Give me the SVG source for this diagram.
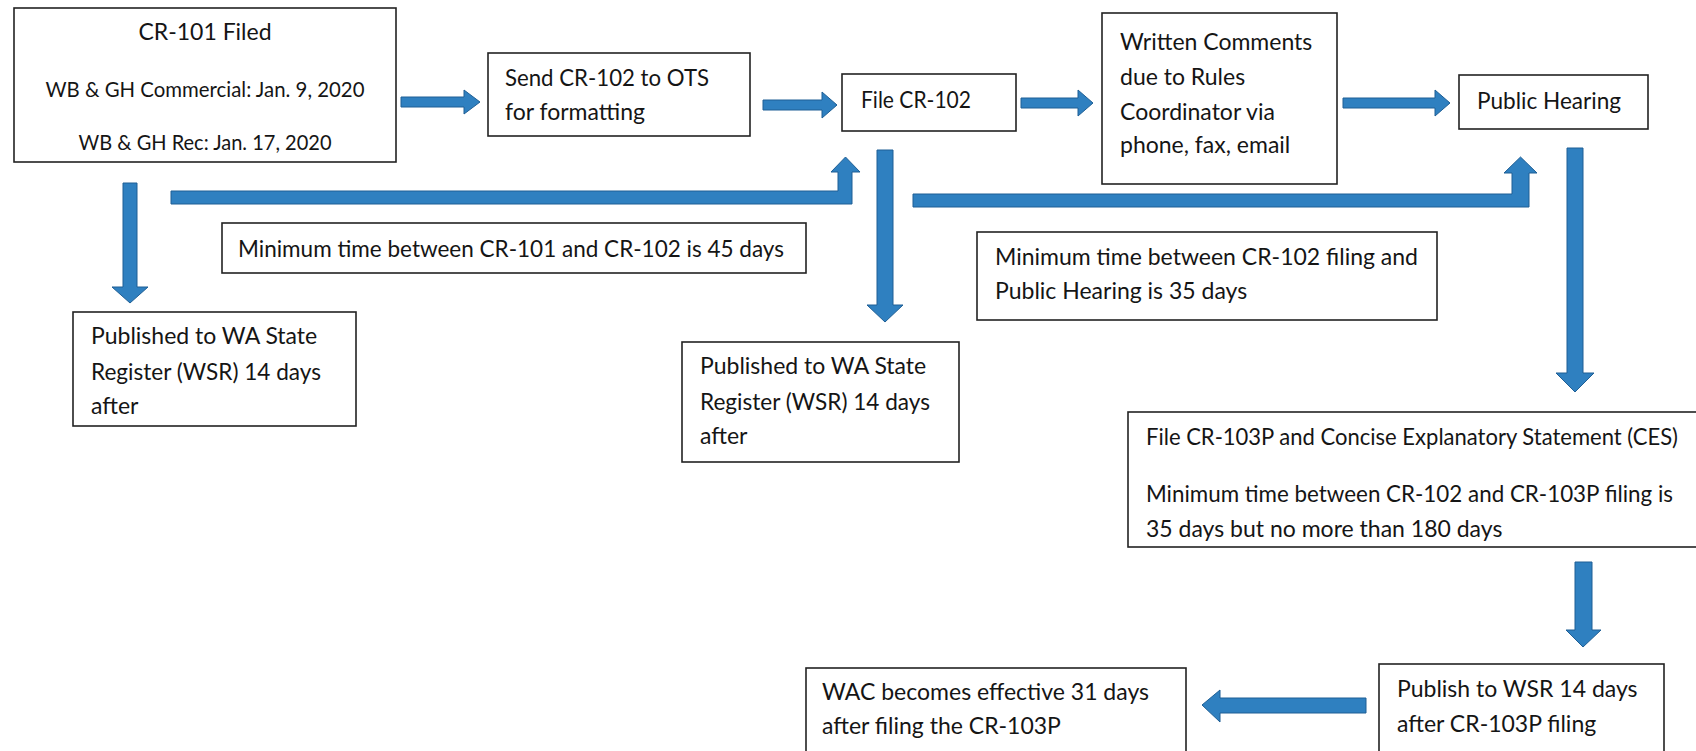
<svg xmlns="http://www.w3.org/2000/svg" width="1696" height="751" viewBox="0 0 1696 751">
<style>
.box{fill:#fff;stroke:#222;stroke-width:1.6}
.t{font-family:Lato,"Liberation Sans",sans-serif;font-size:23px;fill:#151515}
.c{text-anchor:middle}
.arr{fill:#2F80C0;stroke:#1F5F95;stroke-width:1}
</style>
<rect width="1696" height="751" fill="#fff"/>

<g id="connectors">
<polygon class="arr" points="401,97 464,97 464,90 480,102 464,114 464,107 401,107"/>
<polygon class="arr" points="763,100 822,100 822,92 837,105 822,118 822,110 763,110"/>
<polygon class="arr" points="1021,98 1078,98 1078,90 1093,103 1078,116 1078,108 1021,108"/>
<polygon class="arr" points="1343,98 1435,98 1435,90 1450,103 1435,116 1435,108 1343,108"/>
<polygon class="arr" points="123,183 137,183 137,287 148,287 130,303 112,287 123,287"/>
<polygon class="arr" points="877,150 893,150 893,305 903,305 885,322 867,305 877,305"/>
<polygon class="arr" points="1567,148 1583,148 1583,373 1594,373 1575,392 1556,373 1567,373"/>
<polygon class="arr" points="1575,562 1592,562 1592,630 1601,630 1583,647 1566,630 1575,630"/>
<polygon class="arr" points="1366,698 1220,698 1220,690 1202,705 1220,722 1220,713 1366,713"/>
<polygon class="arr" points="171,191 838,191 838,172 831,172 845.5,157 860,172 852,172 852,204 171,204"/>
<polygon class="arr" points="913,194 1512,194 1512,173 1504,173 1520.5,157 1537,173 1529,173 1529,207 913,207"/>
</g>

<g id="cr101">
<rect class="box" x="14" y="8" width="382" height="154"/>
<text class="t c" x="205" y="40">CR-101 Filed</text>
<text class="t c" x="205" y="97" style="font-size:21px" textLength="319" lengthAdjust="spacingAndGlyphs">WB &amp; GH Commercial: Jan. 9, 2020</text>
<text class="t c" x="205" y="150" style="font-size:21px" textLength="253" lengthAdjust="spacingAndGlyphs">WB &amp; GH Rec: Jan. 17, 2020</text>
</g>

<g id="send">
<rect class="box" x="488" y="53" width="262" height="83"/>
<text class="t" x="505" y="86" textLength="204" lengthAdjust="spacingAndGlyphs">Send CR-102 to OTS</text>
<text class="t" x="505" y="120">for formatting</text>
</g>

<g id="file102">
<rect class="box" x="842" y="74" width="174" height="57"/>
<text class="t" x="861" y="108" textLength="110" lengthAdjust="spacingAndGlyphs">File CR-102</text>
</g>

<g id="written">
<rect class="box" x="1102" y="13" width="235" height="171"/>
<text class="t" x="1120" y="50">Written Comments</text>
<text class="t" x="1120" y="85">due to Rules</text>
<text class="t" x="1120" y="120">Coordinator via</text>
<text class="t" x="1120" y="153">phone, fax, email</text>
</g>

<g id="hearing">
<rect class="box" x="1459" y="75" width="189" height="54"/>
<text class="t" x="1477" y="109" textLength="144" lengthAdjust="spacingAndGlyphs">Public Hearing</text>
</g>

<g id="min45">
<rect class="box" x="222" y="223" width="584" height="50"/>
<text class="t" x="238" y="257" textLength="546" lengthAdjust="spacingAndGlyphs">Minimum time between CR-101 and CR-102 is 45 days</text>
</g>

<g id="min35">
<rect class="box" x="977" y="232" width="460" height="88"/>
<text class="t" x="995" y="265">Minimum time between CR-102 filing and</text>
<text class="t" x="995" y="299">Public Hearing is 35 days</text>
</g>

<g id="pub1">
<rect class="box" x="73" y="312" width="283" height="114"/>
<text class="t" x="91" y="344">Published to WA State</text>
<text class="t" x="91" y="380" textLength="230" lengthAdjust="spacingAndGlyphs">Register (WSR) 14 days</text>
<text class="t" x="91" y="414">after</text>
</g>

<g id="pub2">
<rect class="box" x="682" y="342" width="277" height="120"/>
<text class="t" x="700" y="374">Published to WA State</text>
<text class="t" x="700" y="410" textLength="230" lengthAdjust="spacingAndGlyphs">Register (WSR) 14 days</text>
<text class="t" x="700" y="444">after</text>
</g>

<g id="cr103p">
<rect class="box" x="1128" y="412" width="600" height="135"/>
<text class="t" x="1146" y="445" textLength="532" lengthAdjust="spacingAndGlyphs">File CR-103P and Concise Explanatory Statement (CES)</text>
<text class="t" x="1146" y="502" textLength="527" lengthAdjust="spacingAndGlyphs">Minimum time between CR-102 and CR-103P filing is</text>
<text class="t" x="1146" y="537">35 days but no more than 180 days</text>
</g>

<g id="publish103">
<rect class="box" x="1379" y="664" width="285" height="120"/>
<text class="t" x="1397" y="697">Publish to WSR 14 days</text>
<text class="t" x="1397" y="732">after CR-103P filing</text>
</g>

<g id="wac">
<rect class="box" x="806" y="668" width="380" height="120"/>
<text class="t" x="822" y="700">WAC becomes effective 31 days</text>
<text class="t" x="822" y="734">after filing the CR-103P</text>
</g>
</svg>
